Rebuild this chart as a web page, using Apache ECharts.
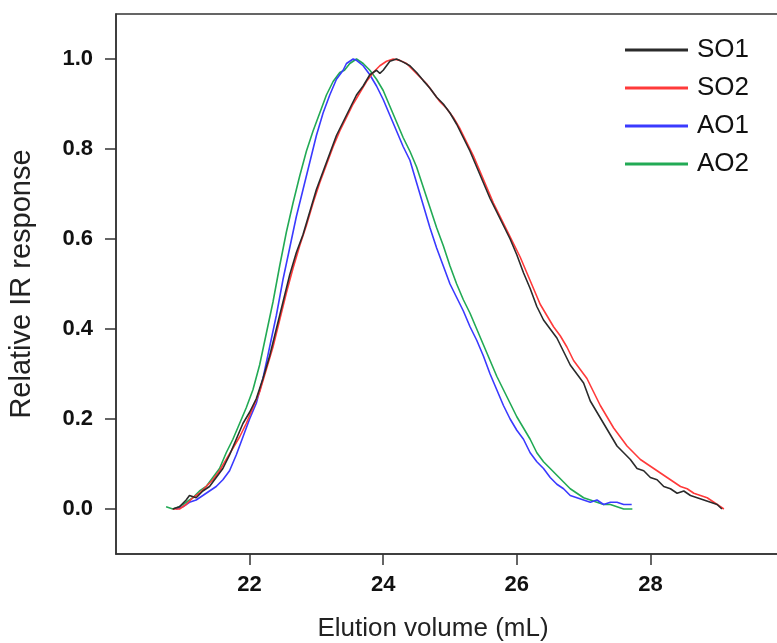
<!DOCTYPE html>
<html>
<head>
<meta charset="utf-8">
<script src="https://cdn.jsdelivr.net/npm/echarts@6/dist/echarts.min.js"></script>
<style>html,body{margin:0;padding:0;background:#fff;}#c{width:777px;height:643px;}</style>
</head>
<body>
<div id="c"></div>
<script>
var seriesNames = ['SO1', 'SO2', 'AO1', 'AO2'];
var xTicks = [22, 24, 26, 28];
var yTicks = [0, 0.2, 0.4, 0.6, 0.8, 1.0];

var SO1 = [[20.85,0.0],[20.95,0.005],[21.05,0.02],[21.1,0.03],[21.2,0.025],[21.3,0.04],[21.4,0.05],[21.5,0.07],[21.6,0.09],[21.7,0.12],[21.8,0.155],[21.9,0.19],[22.0,0.215],[22.1,0.245],[22.2,0.29],[22.3,0.34],[22.4,0.40],[22.5,0.46],[22.6,0.52],[22.7,0.57],[22.8,0.61],[22.9,0.66],[23.0,0.71],[23.1,0.75],[23.2,0.79],[23.3,0.83],[23.4,0.86],[23.5,0.89],[23.6,0.92],[23.7,0.94],[23.8,0.965],[23.9,0.975],[23.95,0.968],[24.0,0.975],[24.1,0.995],[24.2,1.0],[24.3,0.993],[24.4,0.985],[24.5,0.97],[24.6,0.952],[24.7,0.935],[24.8,0.915],[24.9,0.90],[25.0,0.88],[25.1,0.855],[25.2,0.825],[25.3,0.795],[25.4,0.76],[25.5,0.725],[25.6,0.69],[25.7,0.66],[25.8,0.63],[25.9,0.60],[26.0,0.565],[26.1,0.525],[26.2,0.49],[26.3,0.45],[26.4,0.42],[26.5,0.40],[26.6,0.38],[26.7,0.35],[26.8,0.32],[26.9,0.30],[27.0,0.28],[27.1,0.24],[27.2,0.215],[27.3,0.19],[27.4,0.165],[27.5,0.14],[27.6,0.125],[27.7,0.11],[27.8,0.09],[27.9,0.085],[28.0,0.07],[28.1,0.065],[28.2,0.05],[28.3,0.045],[28.4,0.035],[28.5,0.04],[28.6,0.03],[28.7,0.025],[28.8,0.02],[28.9,0.015],[29.0,0.01],[29.07,0.0]];

var SO2 = [[20.85,0.0],[20.95,0.0],[21.05,0.01],[21.15,0.025],[21.25,0.035],[21.35,0.05],[21.45,0.065],[21.55,0.085],[21.65,0.11],[21.75,0.135],[21.85,0.16],[21.95,0.19],[22.05,0.225],[22.15,0.26],[22.25,0.31],[22.35,0.36],[22.45,0.42],[22.55,0.48],[22.65,0.535],[22.75,0.585],[22.85,0.63],[22.95,0.68],[23.05,0.725],[23.15,0.765],[23.25,0.805],[23.35,0.84],[23.45,0.87],[23.55,0.9],[23.65,0.925],[23.75,0.95],[23.85,0.97],[23.95,0.985],[24.05,0.995],[24.15,1.0],[24.25,0.997],[24.35,0.99],[24.45,0.975],[24.55,0.96],[24.65,0.945],[24.75,0.925],[24.85,0.905],[24.95,0.89],[25.05,0.87],[25.15,0.845],[25.25,0.815],[25.35,0.785],[25.45,0.75],[25.55,0.715],[25.65,0.68],[25.75,0.65],[25.85,0.62],[25.95,0.59],[26.05,0.56],[26.15,0.525],[26.25,0.49],[26.35,0.455],[26.45,0.43],[26.55,0.405],[26.65,0.385],[26.75,0.36],[26.85,0.33],[26.95,0.31],[27.05,0.29],[27.15,0.26],[27.25,0.23],[27.35,0.205],[27.45,0.18],[27.55,0.16],[27.65,0.14],[27.75,0.125],[27.85,0.11],[27.95,0.1],[28.05,0.09],[28.15,0.08],[28.25,0.07],[28.35,0.06],[28.45,0.05],[28.55,0.045],[28.65,0.035],[28.75,0.03],[28.85,0.025],[28.95,0.015],[29.05,0.005],[29.1,0.0]];

var AO1 = [[20.9,0.0],[21.0,0.005],[21.1,0.015],[21.2,0.02],[21.3,0.03],[21.4,0.04],[21.5,0.05],[21.6,0.065],[21.7,0.085],[21.8,0.12],[21.9,0.16],[22.0,0.2],[22.1,0.235],[22.2,0.29],[22.3,0.36],[22.4,0.43],[22.5,0.51],[22.6,0.58],[22.7,0.65],[22.8,0.71],[22.9,0.77],[23.0,0.83],[23.1,0.88],[23.2,0.92],[23.3,0.955],[23.4,0.975],[23.45,0.99],[23.55,1.0],[23.6,0.997],[23.7,0.985],[23.8,0.965],[23.9,0.94],[24.0,0.91],[24.1,0.875],[24.2,0.84],[24.3,0.805],[24.4,0.775],[24.5,0.725],[24.6,0.675],[24.7,0.625],[24.8,0.58],[24.9,0.54],[25.0,0.5],[25.1,0.47],[25.2,0.44],[25.3,0.405],[25.4,0.375],[25.5,0.34],[25.6,0.3],[25.7,0.265],[25.8,0.23],[25.9,0.2],[26.0,0.175],[26.1,0.155],[26.2,0.125],[26.3,0.105],[26.4,0.09],[26.5,0.07],[26.6,0.055],[26.7,0.045],[26.8,0.03],[26.9,0.025],[27.0,0.02],[27.1,0.015],[27.2,0.02],[27.3,0.01],[27.4,0.015],[27.5,0.015],[27.6,0.01],[27.72,0.01]];

var AO2 = [[20.75,0.005],[20.85,0.0],[20.95,0.005],[21.05,0.015],[21.15,0.025],[21.25,0.04],[21.35,0.05],[21.45,0.07],[21.55,0.09],[21.65,0.125],[21.75,0.155],[21.85,0.19],[21.95,0.225],[22.05,0.265],[22.15,0.32],[22.25,0.39],[22.35,0.46],[22.45,0.54],[22.55,0.615],[22.65,0.68],[22.75,0.74],[22.85,0.795],[22.95,0.84],[23.05,0.88],[23.15,0.92],[23.25,0.95],[23.35,0.97],[23.42,0.975],[23.5,0.99],[23.6,1.0],[23.7,0.99],[23.8,0.975],[23.9,0.955],[24.0,0.93],[24.1,0.895],[24.2,0.86],[24.3,0.825],[24.4,0.795],[24.5,0.76],[24.6,0.715],[24.7,0.67],[24.8,0.625],[24.9,0.585],[25.0,0.54],[25.1,0.5],[25.2,0.465],[25.3,0.435],[25.4,0.4],[25.5,0.365],[25.6,0.33],[25.7,0.295],[25.8,0.265],[25.9,0.235],[26.0,0.205],[26.1,0.18],[26.2,0.155],[26.3,0.125],[26.4,0.105],[26.5,0.09],[26.6,0.075],[26.7,0.06],[26.8,0.045],[26.9,0.035],[27.0,0.025],[27.1,0.02],[27.2,0.015],[27.3,0.01],[27.4,0.01],[27.5,0.005],[27.6,0.0],[27.73,0.0]];

var seriesData = [SO1, SO2, AO1, AO2];
var colors = ['#2b2b2b', '#ff3a3a', '#3a3aff', '#22aa55'];

var chart = echarts.init(document.getElementById('c'), null, {renderer: 'canvas'});
var font = 'Liberation Sans, Arial, Helvetica, sans-serif';

chart.setOption({
  animation: false,
  backgroundColor: '#ffffff',
  grid: {left: 116, top: 14, width: 668, height: 540, show: true, borderColor: '#333', borderWidth: 1.5,
    backgroundColor: 'transparent', containLabel: false, outerBoundsMode: 'none'},
  legend: {
    orient: 'vertical', left: 625, top: 37, padding: 0,
    itemWidth: 63, itemHeight: 3, itemGap: 12, icon: 'rect',
    textStyle: {fontFamily: font, fontSize: 26, color: '#111', padding: [0, 0, 0, 4]},
    data: seriesNames
  },
  xAxis: {
    type: 'value', min: 20, max: 30,
    name: 'Elution volume (mL)', nameLocation: 'middle', nameGap: 62,
    nameTextStyle: {fontFamily: font, fontSize: 26, color: '#222', padding: [0, 34, 0, 0]},
    axisLine: {show: true, onZero: false, lineStyle: {color: '#333', width: 1.5}},
    axisTick: {show: true, inside: false, length: 11, customValues: xTicks, lineStyle: {color: '#333', width: 1.5}},
    axisLabel: {show: true, margin: 20, customValues: xTicks, fontFamily: font, fontSize: 22, fontWeight: 'bold', color: '#111'},
    splitLine: {show: false}
  },
  yAxis: {
    type: 'value', min: -0.1, max: 1.1,
    name: 'Relative IR response', nameLocation: 'middle', nameGap: 80,
    nameTextStyle: {fontFamily: font, fontSize: 29, color: '#222'},
    axisLine: {show: true, onZero: false, lineStyle: {color: '#333', width: 1.5}},
    axisTick: {show: true, inside: false, length: 11, customValues: yTicks, lineStyle: {color: '#333', width: 1.5}},
    axisLabel: {show: true, margin: 23, customValues: yTicks, fontFamily: font, fontSize: 22, fontWeight: 'bold', color: '#111',
      formatter: function (v) { return v.toFixed(1); }},
    splitLine: {show: false}
  },
  series: seriesNames.map(function (n, i) {
    return {
      name: n, type: 'line', data: seriesData[i], showSymbol: false, symbol: 'none',
      lineStyle: {color: colors[i], width: 1.6}, itemStyle: {color: colors[i]}, z: 4 - i
    };
  })
});
</script>
</body>
</html>
